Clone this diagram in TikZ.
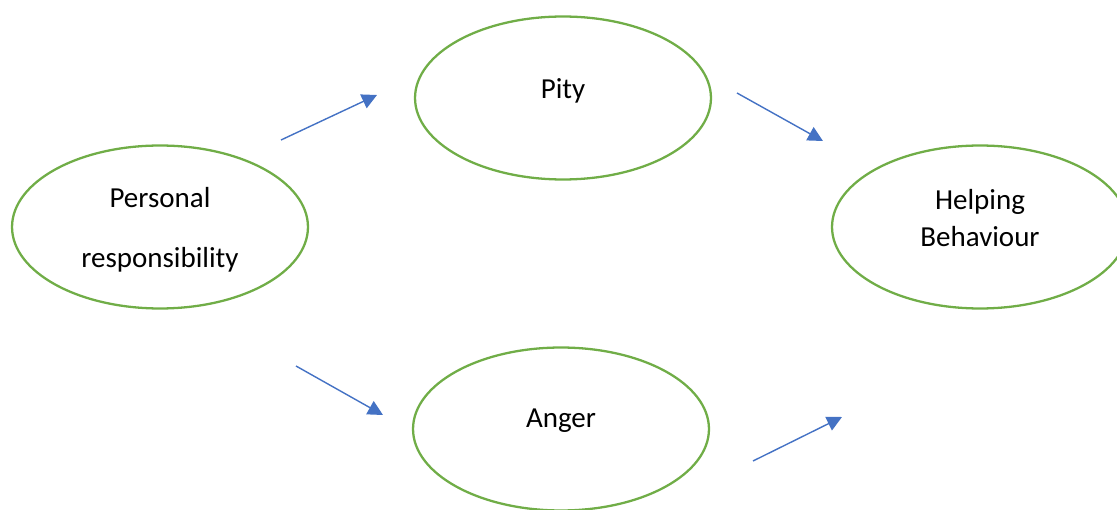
\documentclass[tikz,border=0pt]{standalone}
\usepackage{fontspec}
\setmainfont{Carlito}
\usepackage{xcolor}
\usetikzlibrary{arrows.meta,positioning,calc,shapes.geometric}
\definecolor{ovalgreen}{HTML}{70AD47}
\definecolor{arrowblue}{HTML}{4472C4}

\begin{document}
\begin{tikzpicture}[x=0.02cm,y=-0.02cm,font=\fontsize{16.5}{20}\selectfont,
 oval/.style={draw=ovalgreen,line width=1.3pt,ellipse,minimum width=5.92cm,minimum height=3.26cm,inner sep=0pt},
 txt/.style={align=center,inner sep=0pt},
 flow/.style={draw=arrowblue,line width=0.8pt,-{Triangle[length=0.3cm,width=0.3cm]}}]
\useasboundingbox (0,0) rectangle (1117,510);
\node[oval] (resp) at (160,227) {};
\node[oval] (pity) at (563,98) {};
\node[oval] (help) at (980,227) {};
\node[oval] (anger) at (561,429) {};
\node[txt] (resptxt) at ([yshift=-0.06cm]resp.center) {Personal\\[0.5cm]responsibility};
\node[txt] (pitytxt) at ([yshift=0.15cm]pity.center) {Pity};
\node[txt] (helptxt) at ([yshift=0.18cm]help.center) {Helping\\[0.02cm]Behaviour};
\node[txt] (angertxt) at ([yshift=0.17cm]anger.center) {Anger};
% free arrows between the ovals
\coordinate (a1) at (281,140); \coordinate (b1) at (377,95);
\coordinate (a2) at (737,93);  \coordinate (b2) at (823,141);
\coordinate (a3) at (296,366); \coordinate (b3) at (383,415);
\coordinate (a4) at (753,461); \coordinate (b4) at (842,417);
\foreach \i in {1,...,4}{\draw[flow] (a\i) -- (b\i);}
\end{tikzpicture}
\end{document}
